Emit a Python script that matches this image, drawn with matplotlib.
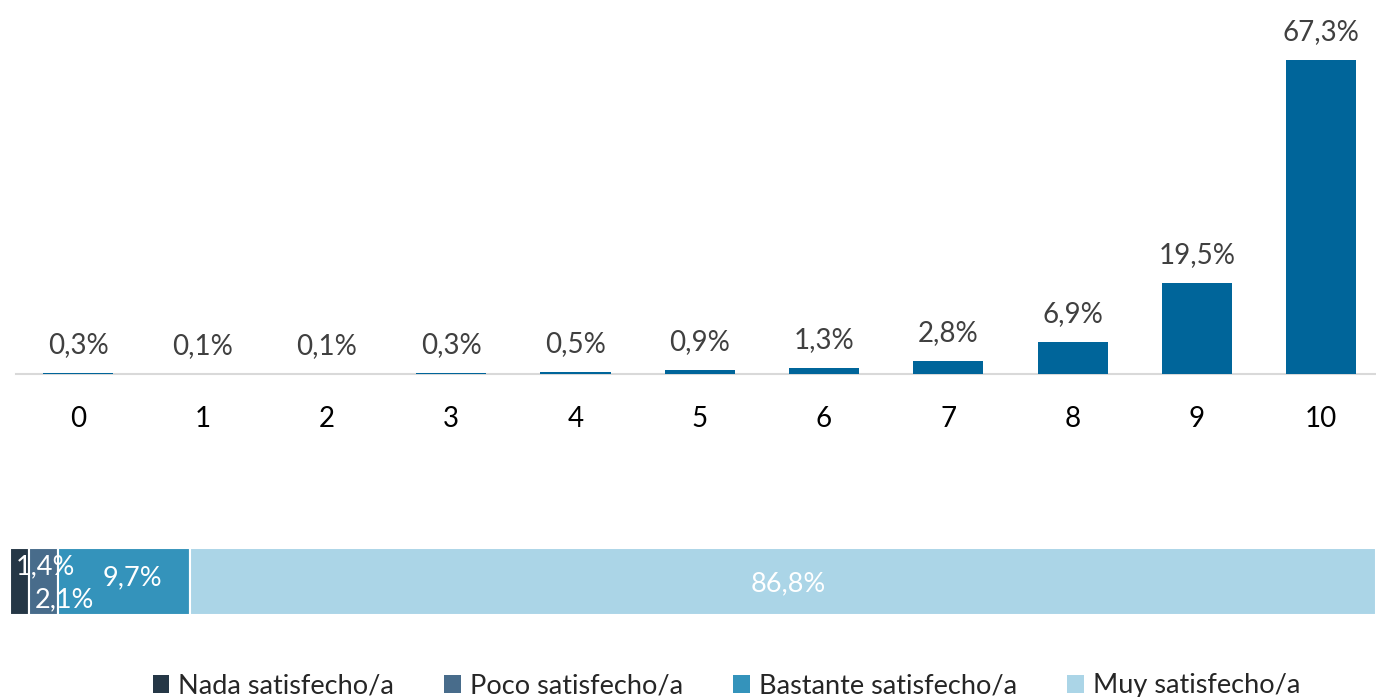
import matplotlib.pyplot as plt
from matplotlib.patches import Patch

plt.rcParams['font.family'] = ['Lato', 'DejaVu Sans']

# distribution of scores 0-10
scores = ['0', '1', '2', '3', '4', '5', '6', '7', '8', '9', '10']
pct = [0.3, 0.1, 0.1, 0.3, 0.5, 0.9, 1.3, 2.8, 6.9, 19.5, 67.3]

# grouped satisfaction
groups = ['Nada satisfecho/a', 'Poco satisfecho/a', 'Bastante satisfecho/a', 'Muy satisfecho/a']
group_pct = [1.4, 2.1, 9.7, 86.8]
group_colors = ['#253746', '#486c8b', '#3493bb', '#abd5e7']

W, H = 1376, 697
fig = plt.figure(figsize=(W / 100, H / 100), dpi=100)

# top bar chart
ax = fig.add_axes([16 / W, 1 - 374 / H, (W - 16) / W, 374 / H])
x = list(range(len(scores)))
ax.bar(x, pct, width=0.565, color='#00659a', zorder=3)
ax.set_xlim(-0.5, 10.44)
ax.set_ylim(0, 67.3 * 374 / 314)
for xi, v in zip(x, pct):
    ax.annotate(f'{v:.1f}%'.replace('.', ','), (xi, v), xytext=(0, 20),
                textcoords='offset points', ha='center', va='center',
                fontsize=20, color='#404040')
ax.set_xticks(x)
ax.set_xticklabels(scores, fontsize=20, color='black')
ax.tick_params(axis='x', length=0, pad=23)
ax.set_yticks([])
for s in ['top', 'left', 'right']:
    ax.spines[s].set_visible(False)
ax.spines['bottom'].set_color('#d9d9d9')
ax.spines['bottom'].set_linewidth(1.5)
ax.spines['bottom'].set_zorder(1)

# bottom stacked bar
ax2 = fig.add_axes([10 / W, 1 - 615 / H, (W - 10) / W, 67 / H])
left = 0
for g, v, c in zip(groups, group_pct, group_colors):
    ax2.barh(0, v, left=left, height=1, color=c, edgecolor='white', linewidth=1.5)
    left += v
ax2.set_xlim(0, 100)
ax2.set_ylim(-0.5, 0.5)
ax2.axis('off')
lab = [f'{v:.1f}%'.replace('.', ',') for v in group_pct]
ax2.text(0.45, 0.22, lab[0], ha='left', va='center', fontsize=19.5, color='white')
ax2.text(1.8, -0.28, lab[1], ha='left', va='center', fontsize=19.5, color='white')
ax2.text(3.5 + 9.7 / 2 + 0.6, 0.06, lab[2], ha='center', va='center', fontsize=19.5, color='white')
ax2.text(13.2 + 86.8 / 2 + 0.4, -0.03, lab[3], ha='center', va='center', fontsize=19.5, color='white')

handles = [Patch(facecolor=c, label=g) for g, c in zip(groups, group_colors)]
fig.legend(handles=handles, loc='center', bbox_to_anchor=(0.528, 1 - 686 / H), ncol=4,
           frameon=False, fontsize=19.5, handlelength=0.6, handleheight=0.6,
           handletextpad=0.35, columnspacing=1.85, labelcolor='#262626')

fig.savefig('out.png', dpi=100)
